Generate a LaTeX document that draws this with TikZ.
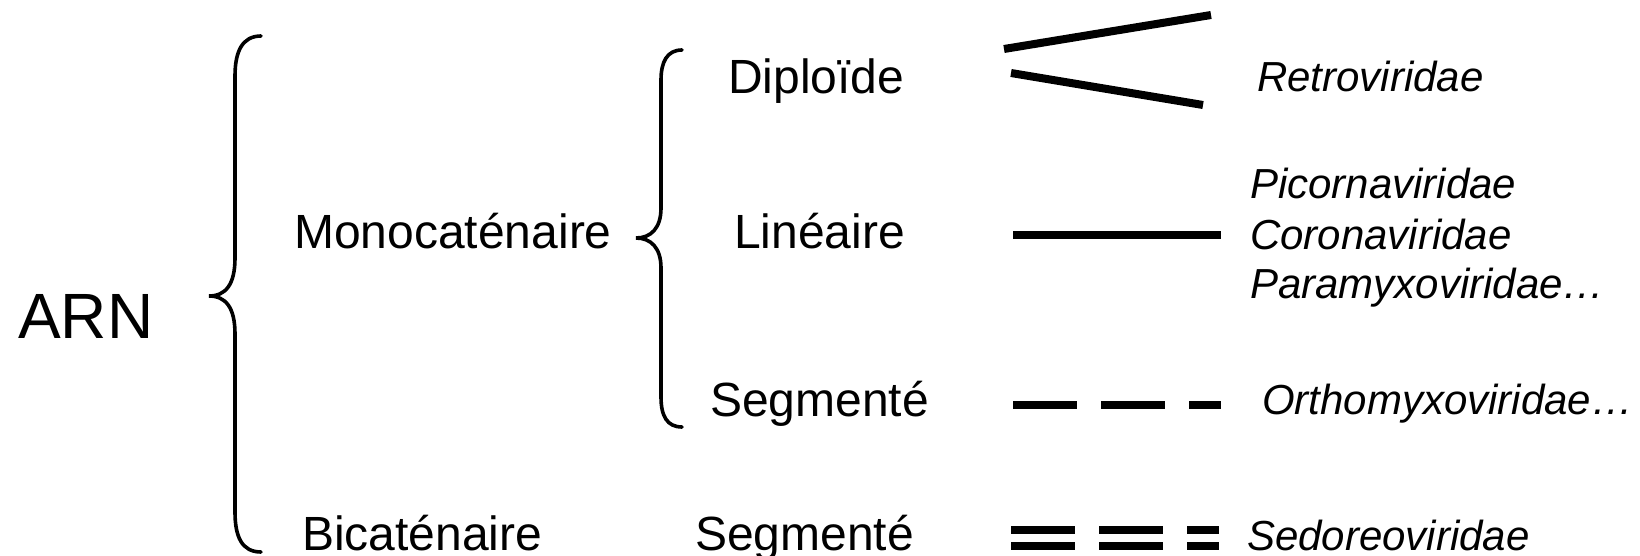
\documentclass[tikz,border=0pt]{standalone}
\usepackage{fontspec}
\setmainfont{Liberation Sans}
\begin{document}
\begin{tikzpicture}[x=1pt,y=-1pt,
  lbl/.style={anchor=base west,inner sep=0pt,font=\fontsize{48}{56}\selectfont},
  fam/.style={anchor=base west,inner sep=0pt,font=\fontsize{42}{50}\selectfont\itshape},
  brace/.style={line width=3.6pt,line cap=round},
  bar/.style={line width=8pt},
  dbar/.style={line width=8pt}]
\useasboundingbox (0,0) rectangle (1640,556);
% texts
\node[lbl,font=\fontsize{64}{72}\selectfont] (arn) at (18,338) {ARN};
\node[lbl] (mono) at (294,248) {Monocaténaire};
\node[lbl] (bica) at (302,550) {Bicaténaire};
\node[lbl] (dipl) at (728,94) {Diploïde};
\node[lbl] (line) at (734,248) {Linéaire};
\node[lbl] (seg1) at (710,416) {Segmenté};
\node[lbl] (seg2) at (695,550) {Segmenté};
\node[fam] (retro) at (1257,92) {Retroviridae};
\node[fam] (pico) at (1250,199) {Picornaviridae};
\node[fam] (coro) at (1250,249) {Coronaviridae};
\node[fam] (para) at (1250,298) {Paramyxoviridae…};
\node[fam] (ortho) at (1262,414) {Orthomyxoviridae…};
\node[fam] (sedo) at (1247,550) {Sedoreoviridae};
% braces
\draw[brace] (261,36) .. controls (242,36) and (235,52) .. (235,76) -- (235,258)
  .. controls (235,284) and (226,296) .. (209,296)
  .. controls (226,296) and (235,308) .. (235,334) -- (235,512)
  .. controls (235,537) and (242,552) .. (261,552);
\draw[brace] (682,50) .. controls (667,50) and (661,62) .. (661,80) -- (661,208)
  .. controls (661,228) and (651,238) .. (636,238)
  .. controls (651,238) and (661,248) .. (661,268) -- (661,397)
  .. controls (661,416) and (667,427) .. (682,427);
% diploid lines
\coordinate (d1a) at (1004,49); \coordinate (d1b) at (1211,15);
\coordinate (d2a) at (1011,73); \coordinate (d2b) at (1203,105);
\draw[bar] (d1a) -- (d1b);
\draw[bar] (d2a) -- (d2b);
% linear line
\coordinate (la) at (1013,235); \coordinate (lb) at (1221,235);
\draw[bar] (la) -- (lb);
% segmented single
\foreach \a/\b in {1013/1077,1101/1165,1189/1221}{
  \draw[bar] (\a,405) -- (\b,405);}
% segmented double
\foreach \a/\b in {1011/1075,1099/1163,1187/1219}{
  \draw[dbar] (\a,530) -- (\b,530);
  \draw[dbar] (\a,546) -- (\b,546);}
\end{tikzpicture}
\end{document}
